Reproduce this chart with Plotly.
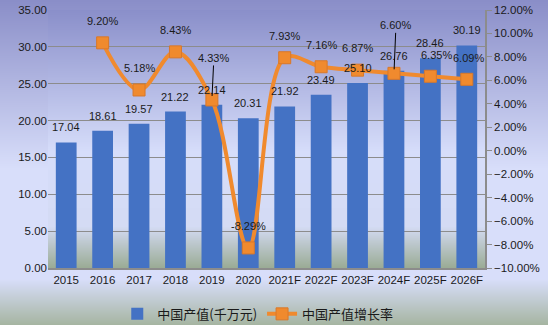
import base64
import struct
import zlib

import plotly.graph_objects as go

# ---- data -------------------------------------------------------------
years = ["2015", "2016", "2017", "2018", "2019", "2020",
         "2021F", "2022F", "2023F", "2024F", "2025F", "2026F"]
output_value = [17.04, 18.61, 19.57, 21.22, 22.14, 20.31,
                21.92, 23.49, 25.10, 26.76, 28.46, 30.19]
growth_rate = [None, 9.20, 5.18, 8.43, 4.33, -8.29,
               7.93, 7.16, 6.87, 6.60, 6.35, 6.09]

BAR_NAME = "中国产值(千万元)"
LINE_NAME = "中国产值增长率"

BLUE = "#4472C4"
ORANGE = "#F08A2E"
GRID = "#8C8C8C"
TEXT = "#1A1A1A"

W, H = 548, 325
M_L, M_R, M_T, M_B = 48, 63, 10, 57
PW, PH = W - M_L - M_R, H - M_T - M_B


# ---- vertical gradient backgrounds as tiny PNGs -------------------------
def gradient_png(height, stops):
    """1-px wide PNG with a vertical colour ramp through the given stops."""
    rows = b""
    for i in range(height):
        t = i / (height - 1)
        for (t0, c0), (t1, c1) in zip(stops, stops[1:]):
            if t0 <= t <= t1:
                f = 0 if t1 == t0 else (t - t0) / (t1 - t0)
                px = bytes(round(a + (b - a) * f) for a, b in zip(c0, c1))
                break
        rows += b"\x00" + px

    def chunk(tag, data):
        body = tag + data
        return (struct.pack(">I", len(data)) + body
                + struct.pack(">I", zlib.crc32(body) & 0xFFFFFFFF))

    png = b"\x89PNG\r\n\x1a\n"
    png += chunk(b"IHDR", struct.pack(">IIBBBBB", 1, height, 8, 2, 0, 0, 0))
    png += chunk(b"IDAT", zlib.compress(rows))
    png += chunk(b"IEND", b"")
    return "data:image/png;base64," + base64.b64encode(png).decode()


chart_bg = gradient_png(H, [
    (0.00, (138, 142, 200)),
    (0.52, (216, 222, 250)),
    (0.86, (216, 222, 250)),
    (1.00, (166, 181, 162)),
])
plot_bg = gradient_png(PH, [
    (0.00, (138, 143, 202)),
    (0.55, (214, 221, 250)),
    (0.84, (212, 219, 244)),
    (1.00, (155, 172, 150)),
])

# ---- traces -------------------------------------------------------------
fig = go.Figure()
fig.add_trace(go.Bar(
    x=years, y=output_value, name=BAR_NAME,
    marker=dict(color=BLUE, line=dict(width=0)),
    width=0.57, yaxis="y",
))
fig.add_trace(go.Scatter(
    x=years, y=growth_rate, name=LINE_NAME, yaxis="y2",
    mode="lines+markers",
    line=dict(color=ORANGE, width=4, shape="spline", smoothing=1),
    marker=dict(symbol="square", size=12, color=ORANGE,
                line=dict(color="#D9782A", width=1)),
    connectgaps=False,
))

# ---- data labels (x given as category index on the category axis) -----
LABEL_FONT = dict(family="Liberation Sans", size=11, color=TEXT)
annotations = []
for i, v in enumerate(output_value):
    annotations.append(dict(
        x=i, y=v, xref="x", yref="y", text=f"{v:.2f}",
        showarrow=False, yshift=15, font=LABEL_FONT,
    ))

# labels pulled away from their point with a leader line
leader = {"2019": -42, "2024F": -48}
# small nudges so the two last growth labels sit side by side
nudge = {"2025F": (6, 21), "2026F": (2, 21)}
for i, (yr, g) in enumerate(zip(years, growth_rate)):
    if g is None:
        continue
    label = f"{g:.2f}%"
    if yr in leader:
        annotations.append(dict(
            x=i, y=g, xref="x", yref="y2", text=label,
            showarrow=True, arrowhead=0, arrowwidth=1, arrowcolor="#000000",
            ax=2, ay=leader[yr], standoff=4, font=LABEL_FONT,
        ))
    else:
        dx, dy = nudge.get(yr, (0, 22))
        annotations.append(dict(
            x=i, y=g, xref="x", yref="y2", text=label,
            showarrow=False, xshift=dx, yshift=dy, font=LABEL_FONT,
        ))

TICK_FONT = dict(family="Liberation Sans", size=11.5, color=TEXT)

# ---- layout -------------------------------------------------------------
fig.update_layout(
    width=W, height=H,
    margin=dict(l=M_L, r=M_R, t=M_T, b=M_B, pad=0, autoexpand=False),
    paper_bgcolor="#D8DEF8",
    plot_bgcolor="rgba(0,0,0,0)",
    font=dict(family="Liberation Sans", size=12, color=TEXT),
    showlegend=True,
    legend=dict(
        orientation="h", x=0.48, xanchor="center", y=-0.178, yanchor="middle",
        bgcolor="rgba(0,0,0,0)",
        font=dict(family="Noto Sans CJK SC", size=13, color=TEXT),
        itemwidth=30, tracegroupgap=0,
    ),
    xaxis=dict(
        type="category", range=[-0.5, len(years) - 0.5],
        showgrid=False, showline=True,
        linecolor=GRID, linewidth=1.5, ticks="",
        tickfont=TICK_FONT,
    ),
    yaxis=dict(
        range=[0, 35], dtick=5, tickformat=".2f",
        showgrid=True, gridcolor=GRID, gridwidth=1,
        zeroline=False, showline=False, ticks="",
        tickfont=TICK_FONT,
    ),
    yaxis2=dict(
        overlaying="y", side="right", range=[-10, 12], dtick=2,
        tickformat=".2f", ticksuffix="%",
        showgrid=False, zeroline=False,
        showline=True, linecolor=GRID, linewidth=1.5,
        ticks="outside", ticklen=5, tickcolor=GRID,
        tickfont=TICK_FONT,
    ),
    annotations=annotations,
    images=[
        dict(source=chart_bg, xref="paper", yref="paper",
             x=-M_L / PW, y=1 + M_T / PH, sizex=W / PW, sizey=H / PH,
             xanchor="left", yanchor="top", sizing="stretch", layer="below"),
        dict(source=plot_bg, xref="paper", yref="paper",
             x=0, y=1, sizex=1, sizey=1,
             xanchor="left", yanchor="top", sizing="stretch", layer="below"),
    ],
)

fig.write_html("out.html")
